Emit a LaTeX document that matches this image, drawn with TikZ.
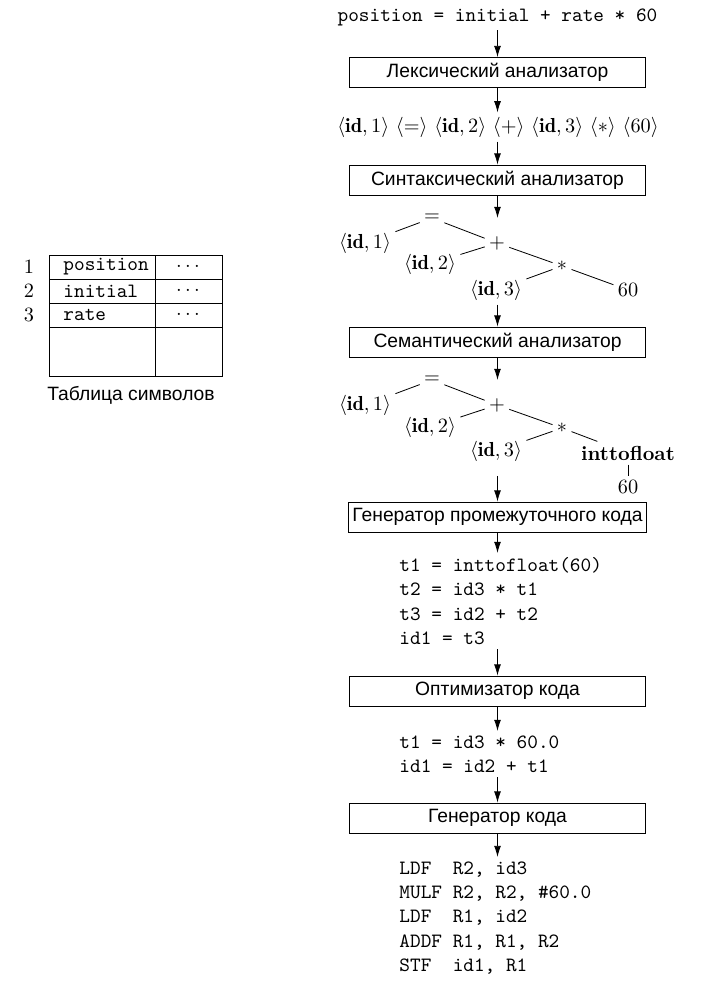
\documentclass[tikz,border=0pt]{standalone}
\usepackage{fontspec}
\setsansfont[Scale=0.95]{Liberation Sans}
\usetikzlibrary{arrows.meta}
\tikzset{
  stage/.style={draw, minimum width=146pt, minimum height=14.8pt, inner sep=2pt, font=\sffamily},
  flow/.style={-{Latex[length=5.5pt,width=3.4pt]}},
  leaf/.style={inner sep=2pt},
  code/.style={anchor=north west, align=left, inner sep=2pt, font=\ttfamily},
}

\begin{document}
\begin{tikzpicture}[x=0.4926pt,y=-0.4926pt]
  \useasboundingbox (0,0) rectangle (706,986);
  % symbol table
  \draw (49,255) rectangle (222,376);
  \foreach \y in {279,303,327}
    \draw (49,\y) -- (222,\y);
  \draw (155,255) -- (155,376);
  \foreach \k/\word/\y in {1/position/267,2/initial/291,3/rate/315} {
    \node[leaf] (num\k) at (29,\y) {\k};
    \node[leaf,anchor=west,font=\ttfamily] (sym\k) at (59,\y) {\word};
    \node[leaf] (attr\k) at (188,\y) {$\cdots$};
  }
  \node[font=\sffamily] (symtab) at (131,395) {Таблица символов};

  % phases
  \node[leaf,font=\ttfamily] (src) at (497.5,17) {position = initial + rate * 60};
  \node[stage] (lex) at (497.5,72.5) {Лексический анализатор};
  \node[leaf] (tok) at (498,127) {$\langle\mathbf{id},1\rangle$ $\langle=\rangle$ $\langle\mathbf{id},2\rangle$ $\langle+\rangle$ $\langle\mathbf{id},3\rangle$ $\langle*\rangle$ $\langle60\rangle$};
  \node[stage] (syn) at (497.5,180) {Синтаксический анализатор};
  \node[stage] (sem) at (497.5,342) {Семантический анализатор};
  \node[stage] (imc) at (497.5,517) {Генератор промежуточного кода};
  \node[code] (tac) at (395,553) {t1 = inttofloat(60)\\t2 = id3 * t1\\t3 = id2 + t2\\id1 = t3};
  \node[stage] (opt) at (497.5,691) {Оптимизатор кода};
  \node[code] (otac) at (395,731) {t1 = id3 * 60.0\\id1 = id2 + t1};
  \node[stage] (cg) at (497.5,818) {Генератор кода};
  \node[code] (asm) at (395,857) {LDF~~R2, id3\\MULF R2, R2, \#60.0\\LDF~~R1, id2\\ADDF R1, R1, R2\\STF~~id1, R1};

  % syntax tree
  \node[leaf] (eqA) at (432,218) {$=$};
  \node[leaf] (idA1) at (365,243) {$\langle\mathbf{id},1\rangle$};
  \node[leaf] (plusA) at (497,243) {$+$};
  \node[leaf] (idA2) at (430,264) {$\langle\mathbf{id},2\rangle$};
  \node[leaf] (starA) at (562,266) {$*$};
  \node[leaf] (idA3) at (496,290) {$\langle\mathbf{id},3\rangle$};
  \node[leaf] (numA) at (628,290) {$60$};
  \draw (eqA) -- (idA1);
  \draw (eqA) -- (plusA);
  \draw (plusA) -- (idA2);
  \draw (plusA) -- (starA);
  \draw (starA) -- (idA3);
  \draw (starA) -- (numA);

  % annotated tree
  \node[leaf] (eqB) at (432,380) {$=$};
  \node[leaf] (idB1) at (365,405) {$\langle\mathbf{id},1\rangle$};
  \node[leaf] (plusB) at (497,405) {$+$};
  \node[leaf] (idB2) at (430,427) {$\langle\mathbf{id},2\rangle$};
  \node[leaf] (starB) at (562,428) {$*$};
  \node[leaf] (idB3) at (496,451) {$\langle\mathbf{id},3\rangle$};
  \node[leaf] (convB) at (628,453) {\textbf{inttofloat}};
  \node[leaf] (numB) at (628,487) {$60$};
  \draw (eqB) -- (idB1);
  \draw (eqB) -- (plusB);
  \draw (plusB) -- (idB2);
  \draw (plusB) -- (starB);
  \draw (starB) -- (idB3);
  \draw (starB) -- (convB);
  \draw (convB) -- (numB);

  % flow
  \draw[flow] (src) -- (lex);
  \draw[flow] (lex.south) -- (lex.south |- tok.north);
  \draw[flow] (tok.south -| syn.north) -- (syn.north);
  \draw[flow] (syn.south) -- (syn.south |- eqA);
  \draw[flow] (idA3.south -| sem.north) -- (sem.north);
  \draw[flow] (sem.south) -- (sem.south |- eqB);
  \draw[flow] (numB.north -| imc.north) -- (imc.north);
  \draw[flow] (imc.south) -- (imc.south |- tac.north);
  \draw[flow] (tac.south -| opt.north) -- (opt.north);
  \draw[flow] (opt.south) -- (opt.south |- otac.north);
  \draw[flow] (otac.south -| cg.north) -- (cg.north);
  \draw[flow] (cg.south) -- (cg.south |- asm.north);
\end{tikzpicture}
\end{document}
